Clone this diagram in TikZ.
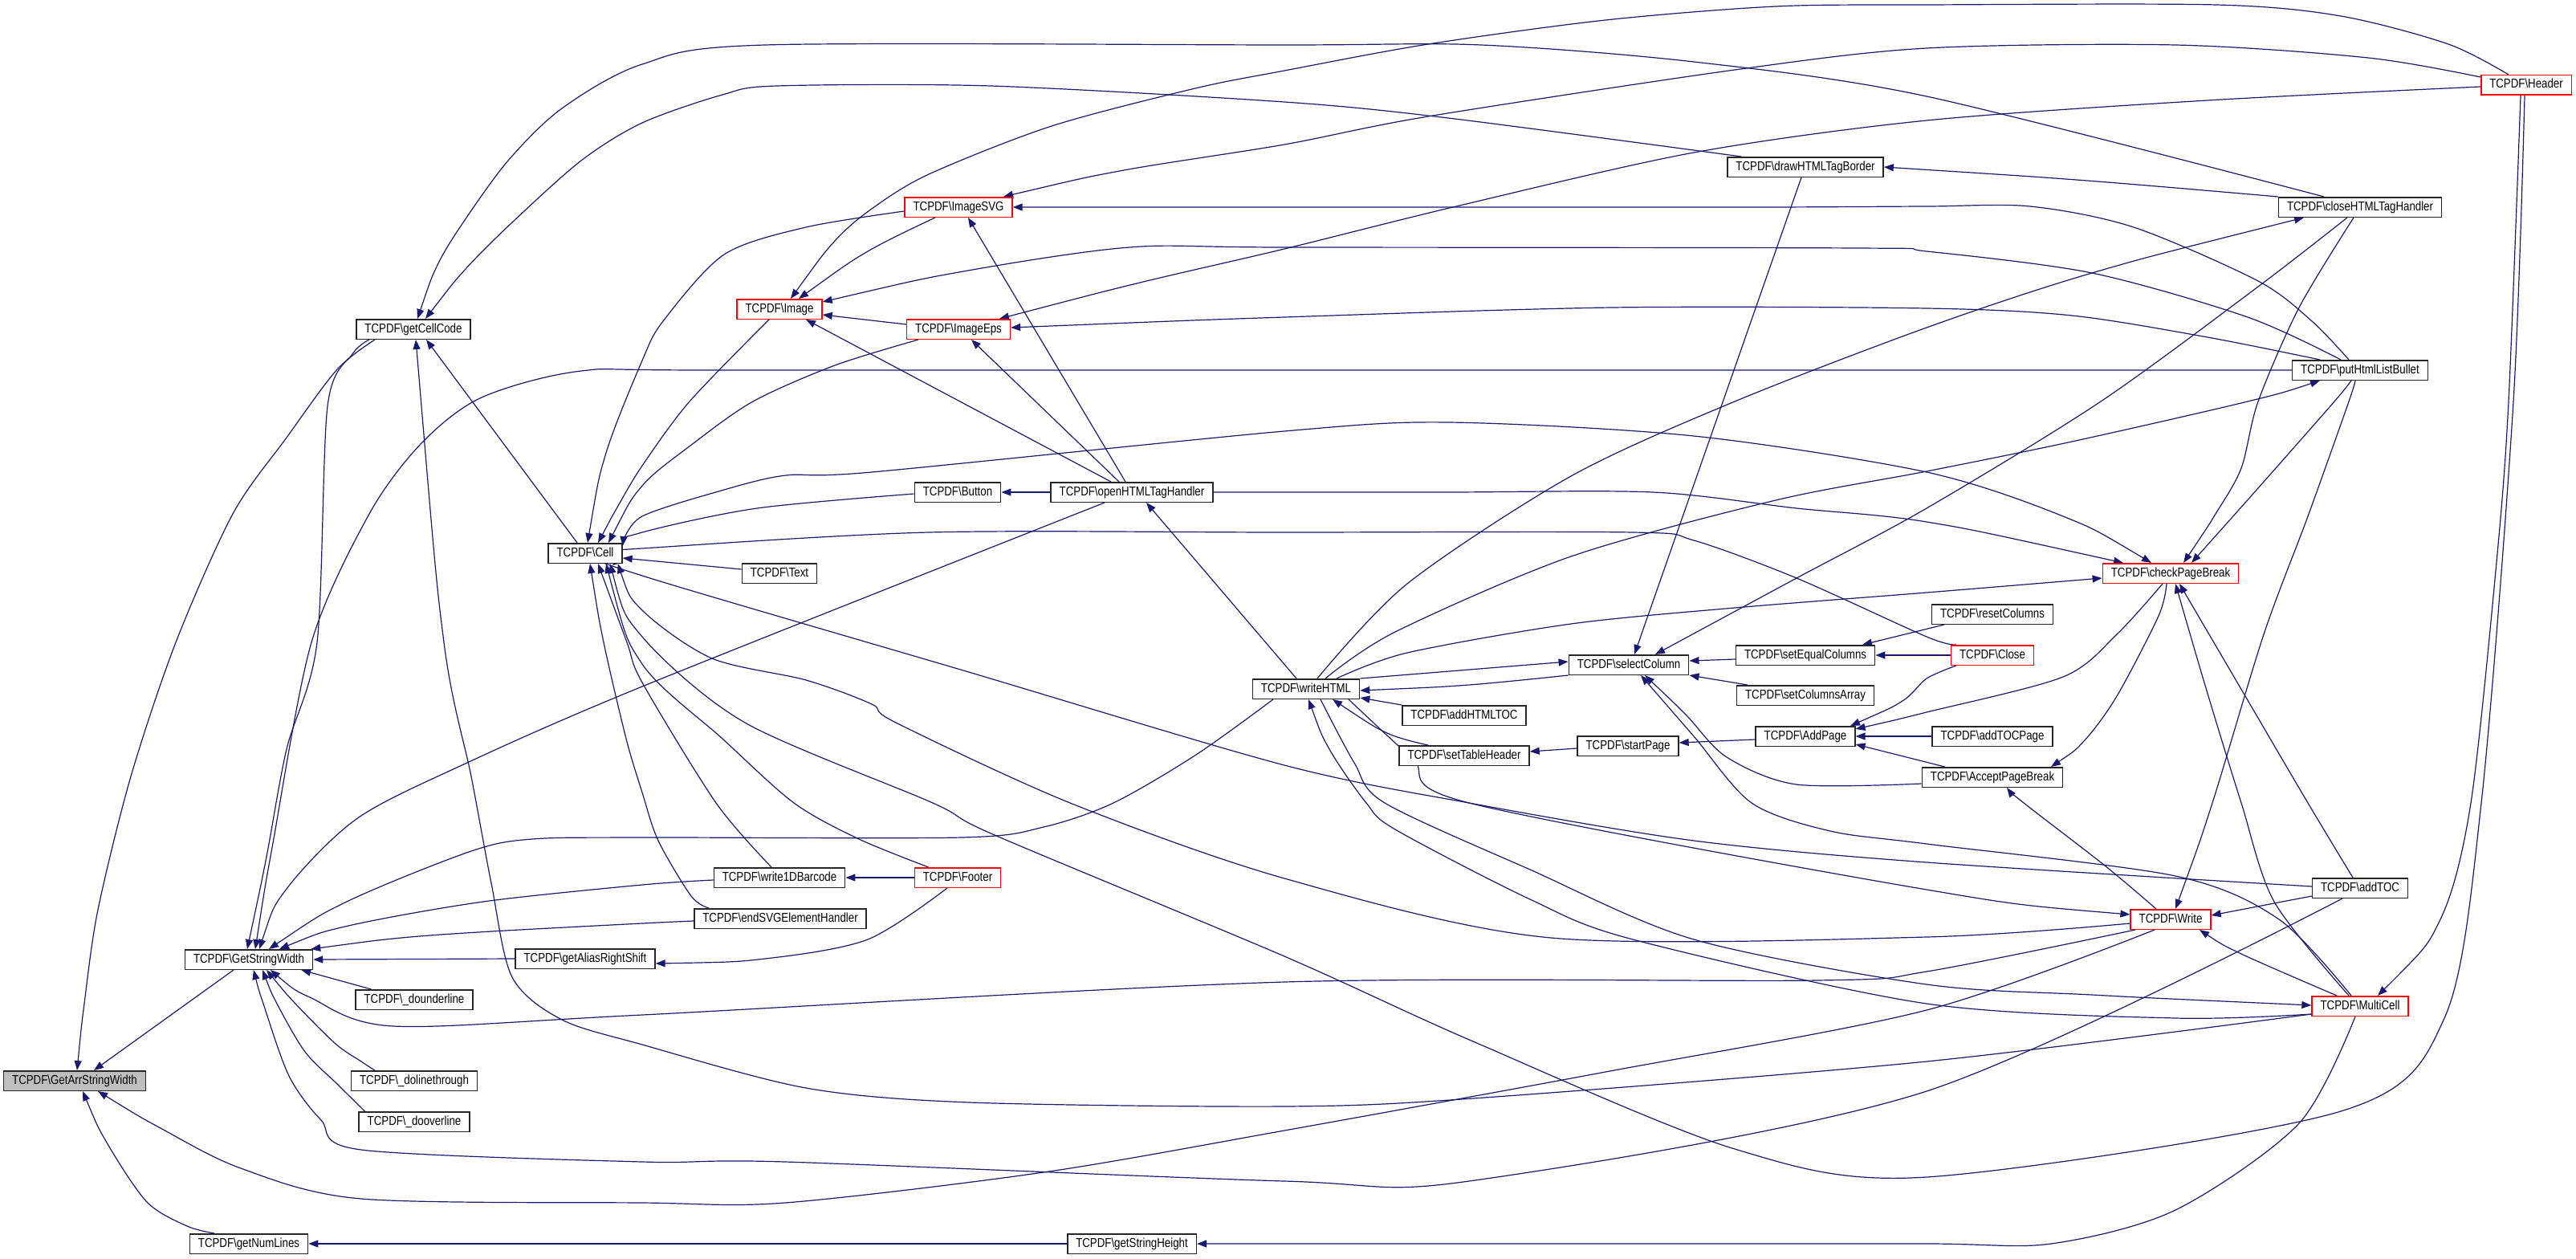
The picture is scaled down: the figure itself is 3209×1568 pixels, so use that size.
\documentclass[tikz,border=0pt]{standalone}
\usepackage{fontspec}
\newfontfamily\dfont[FakeStretch=0.83]{Liberation Sans}
\usetikzlibrary{arrows.meta}
\definecolor{edgecol}{HTML}{191970}
\definecolor{nodered}{HTML}{FF0000}
\pgfdeclarelayer{bg}
\pgfsetlayers{bg,main}
\newcommand\edgeplot[1]{\draw[edg] plot[smooth,tension=0.5] coordinates {#1};}
\begin{document}
\begin{tikzpicture}[x=1pt,y=-1pt,
  fn/.style={draw=black!85, line width=1.5pt, fill=white, font=\dfont\fontsize{16}{19}\selectfont,
    inner xsep=10.5pt, inner ysep=0pt, minimum height=24.5pt, text height=11.5pt, text depth=3.5pt},
  redfn/.style={fn, draw=nodered},
  rootfn/.style={fn, fill=black!25},
  edg/.style={draw=edgecol, line width=1.2pt, {Triangle[length=12pt,width=9pt]}-}]
\useasboundingbox (0,0) rectangle (3209,1568);
% nodes
\node[rootfn] (garr) at (93,1346) {TCPDF\textbackslash GetArrStringWidth};
\node[fn] (gcc) at (515,410) {TCPDF\textbackslash getCellCode};
\node[fn] (gsw) at (310,1195) {TCPDF\textbackslash GetStringWidth};
\node[fn] (gnl) at (310,1549) {TCPDF\textbackslash getNumLines};
\node[fn] (dun) at (516,1245) {TCPDF\textbackslash\_dounderline};
\node[fn] (dlt) at (516,1346) {TCPDF\textbackslash\_dolinethrough};
\node[fn] (dov) at (516,1397) {TCPDF\textbackslash\_dooverline};
\node[fn] (cell) at (729,689) {TCPDF\textbackslash Cell};
\node[fn] (gars) at (729,1194) {TCPDF\textbackslash getAliasRightShift};
\node[redfn] (img) at (971,385) {TCPDF\textbackslash Image};
\node[fn] (txt) at (971,714) {TCPDF\textbackslash Text};
\node[fn] (w1d) at (971,1093) {TCPDF\textbackslash write1DBarcode};
\node[fn] (esvg) at (972,1144) {TCPDF\textbackslash endSVGElementHandler};
\node[redfn] (isvg) at (1194,258) {TCPDF\textbackslash ImageSVG};
\node[redfn] (ieps) at (1194,410) {TCPDF\textbackslash ImageEps};
\node[fn] (btn) at (1193,613) {TCPDF\textbackslash Button};
\node[redfn] (foot) at (1193,1093) {TCPDF\textbackslash Footer};
\node[fn] (open) at (1410,613) {TCPDF\textbackslash openHTMLTagHandler};
\node[fn] (gsh) at (1410,1549) {TCPDF\textbackslash getStringHeight};
\node[fn] (whtml) at (1627,858) {TCPDF\textbackslash writeHTML};
\node[fn] (ahtoc) at (1824,891) {TCPDF\textbackslash addHTMLTOC};
\node[fn] (sth) at (1824,941) {TCPDF\textbackslash setTableHeader};
\node[fn] (selc) at (2029,828) {TCPDF\textbackslash selectColumn};
\node[fn] (stp) at (2028,929) {TCPDF\textbackslash startPage};
\node[fn] (dhtb) at (2249,208) {TCPDF\textbackslash drawHTMLTagBorder};
\node[fn] (seq) at (2249,816) {TCPDF\textbackslash setEqualColumns};
\node[fn] (sca) at (2249,866) {TCPDF\textbackslash setColumnsArray};
\node[fn] (addp) at (2249,917) {TCPDF\textbackslash AddPage};
\node[fn] (rcol) at (2482,765) {TCPDF\textbackslash resetColumns};
\node[redfn] (clos) at (2482,816) {TCPDF\textbackslash Close};
\node[fn] (atocp) at (2482,917) {TCPDF\textbackslash addTOCPage};
\node[fn] (apb) at (2482,968) {TCPDF\textbackslash AcceptPageBreak};
\node[redfn] (cpb) at (2704,714) {TCPDF\textbackslash checkPageBreak};
\node[redfn] (wrt) at (2704,1145) {TCPDF\textbackslash Write};
\node[fn] (chtml) at (2940,258) {TCPDF\textbackslash closeHTMLTagHandler};
\node[fn] (plb) at (2940,461) {TCPDF\textbackslash putHtmlListBullet};
\node[fn] (atoc) at (2940,1106) {TCPDF\textbackslash addTOC};
\node[redfn] (mcell) at (2940,1253) {TCPDF\textbackslash MultiCell};
\node[redfn] (hdr) at (3147,106) {TCPDF\textbackslash Header};
\begin{pgfonlayer}{bg}
\fill[white] (0,0) rectangle (3209,1568);
% GetArrStringWidth
\edgeplot{([xshift=3pt]garr.north) (105,1250) (122,1133) (163,967) (219,800) (290,640) (357,545) (420,460) ([xshift=-48pt]gcc.south)}
\draw[edg] ([xshift=24pt]garr.north) -- ([xshift=-19pt]gsw.south);
\edgeplot{([xshift=10pt]garr.south) (133,1423) (183,1497) (233,1527) ([xshift=-43pt]gnl.north)}
\edgeplot{([xshift=29pt]garr.south) (200,1405) (300,1455) (450,1493) (800,1498) (978,1498) (1300,1460) (1600,1408) (2000,1335) (2400,1258) ([xshift=-20pt]wrt.south)}
% GetStringWidth
\edgeplot{([xshift=-2pt]gsw.north) (332,1067) (357,933) (395,800) (408,506) (439,441) ([xshift=-55pt]gcc.south)}
\edgeplot{([xshift=8pt]gsw.north) (340,1050) (388,800) (460,640) (525,552) (600,495) (724,462) (900,461) (2000,461) (plb.west)}
\edgeplot{([xshift=13pt]gsw.north) (357,1107) (444,1020) (571,955) (800,855) ([xshift=-34pt]open.south)}
\edgeplot{([xshift=25pt]gsw.north) (434,1122) (587,1060) (663,1045) (800,1043) (1198,1043) (1300,1030) (1387,1000) (1490,940) ([xshift=-41pt]whtml.south)}
\edgeplot{([xshift=38pt]gsw.north) (434,1153) (602,1123) (800,1102) ([yshift=-3pt]w1d.west)}
\edgeplot{([xshift=-3pt]gsw.north east) (500,1168) (612,1160) (800,1150) ([yshift=-3pt]esvg.west)}
\draw[edg] (gsw.east) -- (gars.west);
\draw[edg] ([xshift=-15pt]gsw.south east) -- ([xshift=20pt]dun.north west);
\edgeplot{([xshift=22pt]gsw.south) (368,1250) (418,1300) (450,1322) ([xshift=30pt]dlt.north west)}
\edgeplot{([xshift=17pt]gsw.south) (345,1250) (380,1310) (420,1350) ([xshift=8pt]dov.north west)}
\edgeplot{([xshift=27pt]gsw.south) (388,1243) (490,1278) (800,1264) (1600,1223) (2263,1221) (2400,1210) ([xshift=-44pt]wrt.south)}
\edgeplot{([xshift=6pt]gsw.south) (328,1250) (360,1340) (400,1395) (450,1432) (800,1447) (978,1447) (1600,1471) (1830,1471) (2400,1359) ([xshift=-22pt]atoc.south)}
% getCellCode
\edgeplot{([xshift=5pt]gcc.north) (545,330) (577,277) (633,200) (700,135) (800,80) (953,56) (1600,56) (1845,56) (2110,77) (2400,120) ([xshift=-45pt]chtml.north)}
\edgeplot{([xshift=15pt]gcc.north) (580,335) (638,277) (724,200) (800,153) (900,118) (968,107) (1234,107) (1600,127) (1804,147) ([xshift=18pt]dhtb.north west)}
\draw[edg] ([xshift=16pt]gcc.south) -- ([xshift=-10pt]cell.north);
\edgeplot{([xshift=3pt]gcc.south) (553,800) (587,967) (612,1100) (638,1217) (700,1270) (800,1301) (1004,1355) (1208,1373) (1600,1378) (1835,1368) (2400,1322) ([yshift=-10pt]mcell.west)}
% Image family
\edgeplot{([xshift=14pt]img.north) (1040,300) (1086,260) (1157,217) (1310,157) (1489,110) (1600,88) (1779,55) (2000,25) (2212,8) (2400,6) (2761,6) (2916,20) (3050,55) ([xshift=-22pt]hdr.north)}
\edgeplot{([xshift=56pt]isvg.north) (1400,212) (1600,180) (1779,145) (2161,87) (2400,60) (2710,56) (2950,72) ([yshift=-3pt]hdr.north west)}
\edgeplot{([xshift=51pt]ieps.north) (1420,352) (1600,310) (1814,257) (2110,190) (2400,150) (2750,125) ([yshift=-2pt]hdr.west)}
\edgeplot{(isvg.east) (1800,258) (2200,258) (2400,257) (2529,257) (2658,283) (2813,350) (2880,400) ([xshift=-14pt]plb.north)}
\edgeplot{([yshift=9pt]img.east) (1200,338) (1407,308) (1600,308) (2314,309) (2400,313) (2606,340) (2800,395) ([xshift=-24pt]plb.north)}
\edgeplot{([yshift=2pt]ieps.east) (1600,395) (2008,383) (2400,384) (2581,393) (2750,420) ([xshift=-50pt]plb.north)}
\edgeplot{([xshift=24pt]img.north) (1081,313) ([xshift=-29pt]isvg.south)}
\draw[edg] ([yshift=-7pt]img.east) -- ([yshift=6pt]ieps.west);
\draw[edg] ([xshift=33pt]img.south) -- ([xshift=-26pt]open.north);
\draw[edg] ([xshift=12pt]isvg.south) -- ([xshift=-8pt]open.north);
\draw[edg] ([xshift=16pt]ieps.south) -- ([xshift=-16pt]open.north);
% Cell
\edgeplot{([xshift=16pt]cell.north) (770,630) (800,580) (859,500) ([xshift=-13pt]img.south)}
\edgeplot{([xshift=3pt]cell.north) (755,564) (800,449) (826,400) (902,317) (1004,283) ([yshift=-5pt]isvg.west)}
\edgeplot{([xshift=29pt]cell.north) (800,605) (860,555) (938,500) (1040,455) ([xshift=-50pt]ieps.south)}
\edgeplot{([yshift=9pt]cell.east) (800,663) (943,633) ([yshift=-2pt]btn.west)}
\draw[edg] ([yshift=-6pt]cell.east) -- ([yshift=5pt]txt.west);
\edgeplot{([yshift=2pt]cell.east) (800,683) (1157,663) (1600,663) (2034,663) (2110,673) (2238,720) (2400,793) ([xshift=7pt]clos.north west)}
\edgeplot{([yshift=-11pt]cell.east) (800,717) (1200,835) (1600,953) (1830,1000) (2110,1047) (2400,1074) ([yshift=2pt]atoc.west)}
\edgeplot{([xshift=-6pt]cell.south east) (800,760) (887,820) (1004,847) (1086,877) (1116,900) (1333,1000) (1600,1094) (1932,1168) (2400,1167) ([yshift=-5pt]wrt.west)}
\edgeplot{([xshift=31pt]cell.south) (800,793) (928,900) (1162,1000) (1239,1040) (1600,1191) (1835,1297) (2161,1431) (2400,1466) (2916,1384) (3045,1268) (3091,1000) (3131,500) ([xshift=-2pt]hdr.south)}
\edgeplot{([xshift=26pt]cell.south) (800,827) (900,920) (989,1000) (1070,1045) ([xshift=18pt]foot.north west)}
\edgeplot{([xshift=16pt]cell.south) (781,800) (800,850) (892,1000) ([xshift=-10pt]w1d.north)}
\edgeplot{([xshift=6pt]cell.south) (752,800) (780,920) (800,987) (820,1047) (861,1116) ([xshift=19pt]esvg.north west)}
% checkPageBreak
\edgeplot{([xshift=-24pt]cpb.north) (2570,643) (2400,588) (2110,543) (1804,526) (1600,537) (1086,588) (979,592) (902,610) (800,643) (cell.north east)}
\draw[edg] (btn.east) -- (open.west);
\edgeplot{([xshift=-59pt]cpb.north) (2400,650) (2238,633) (2059,613) (1800,613) (open.east)}
\draw[edg] ([xshift=18pt]open.south) -- ([xshift=-12pt]whtml.north);
\edgeplot{([yshift=-6pt]gars.east) (953,1194) (1081,1170) ([xshift=-13pt]foot.south)}
\draw[edg] (w1d.east) -- (foot.west);
\edgeplot{(gsh.east) (2000,1549) (2400,1549) (2555,1549) (2710,1507) (2864,1399) ([xshift=-6pt]mcell.south)}
\draw[edg] (gnl.east) -- (gsh.west);
% writeHTML
\edgeplot{([xshift=-70pt]chtml.south) (2606,340) (2400,408) (2161,500) (1957,593) (1753,727) ([xshift=14pt]whtml.north)}
\edgeplot{([xshift=-50pt]plb.south) (2800,500) (2581,550) (2400,587) (2212,623) (1957,693) (1738,787) ([xshift=24pt]whtml.north)}
\edgeplot{([yshift=-6pt]cpb.west) (2400,738) (2161,757) (1957,777) (1753,813) ([xshift=38pt]whtml.north)}
\draw[edg] ([yshift=4pt]selc.west) -- (whtml.north east);
\edgeplot{([yshift=-2pt]whtml.east) (1830,853) (selc.south west)}
\edgeplot{([yshift=1pt]mcell.west) (2606,1239) (2400,1226) (2110,1170) (1906,1083) (1725,1000) (1687,950) ([xshift=18pt]whtml.south)}
\edgeplot{([xshift=3pt]whtml.south) (1656,933) (1702,1000) (1738,1033) (1906,1120) (2034,1170) (2400,1250) (2710,1268) ([yshift=-10pt]mcell.west)}
\edgeplot{([yshift=6pt]wrt.west) (2400,1108) (1830,1000) (1760,945) ([xshift=53pt]whtml.south)}
\draw[edg] ([yshift=2pt]whtml.south east) -- (ahtoc.north west);
\edgeplot{([xshift=33pt]whtml.south) (1728,913) ([xshift=-45pt]sth.north)}
\draw[edg] ([yshift=5pt]sth.east) -- ([yshift=-3pt]stp.west);
\draw[edg] ([yshift=4pt]stp.east) -- ([yshift=-4pt]addp.west);
% selectColumn
\draw[edg] ([xshift=7pt]selc.north) -- ([xshift=-5pt]dhtb.south);
\edgeplot{([xshift=33pt]selc.north) (2238,720) (2400,633) (2617,500) (2813,357) ([xshift=-16pt]chtml.south)}
\draw[edg] ([yshift=5pt]selc.east) -- ([yshift=-5pt]seq.west);
\draw[edg] (selc.south east) -- ([xshift=14pt]sca.north west);
\edgeplot{([xshift=15pt]selc.south) (2110,917) (2182,1000) (2280,1035) (2400,1051) (2710,1091) (2839,1145) ([xshift=-11pt]mcell.north)}
\edgeplot{([xshift=20pt]selc.south) (2100,890) (2151,943) (2238,977) ([yshift=-8pt]apb.west)}
\edgeplot{(dhtb.east) (2600,225) (chtml.north west)}
\draw[edg] ([xshift=71pt]seq.north) -- ([xshift=16pt]rcol.south west);
\draw[edg] (seq.east) -- (clos.west);
% AddPage
\edgeplot{([xshift=56pt]addp.north) (2370,873) (2400,845) ([xshift=7pt]clos.south west)}
\edgeplot{([yshift=9pt]addp.east) (2400,887) (2570,843) (2637,790) ([xshift=-10pt]cpb.south)}
\draw[edg] (addp.east) -- (atocp.west);
\draw[edg] ([yshift=-10pt]addp.east) -- ([xshift=29pt]apb.north west);
% AcceptPageBreak
\edgeplot{([xshift=73pt]apb.north) (2596,923) (2637,867) (2689,767) ([xshift=-5pt]cpb.south)}
\edgeplot{([xshift=18pt]apb.south) (2521,1000) (2622,1078) ([xshift=-18pt]wrt.north)}
% checkPageBreak callers
\edgeplot{([xshift=16pt]cpb.north) (2760,640) (2792,583) (2813,500) (2864,383) ([xshift=-8pt]chtml.south)}
\edgeplot{([xshift=26pt]cpb.north) (2820,600) (2908,500) ([xshift=-11pt]plb.south)}
\edgeplot{([xshift=6pt]cpb.south) (2751,867) (2792,1000) (2833,1123) ([xshift=-14pt]mcell.north)}
\edgeplot{([xshift=11pt]cpb.south) (2797,867) (2875,1000) ([xshift=-9pt]atoc.north)}
% Write callers
\edgeplot{([xshift=6pt]wrt.north) (2756,1000) (2820,790) (2875,643) (2926,500) ([xshift=-6pt]plb.south)}
\edgeplot{([xshift=36pt]wrt.south) (2792,1188) ([xshift=-29pt]mcell.north)}
\draw[edg] ([yshift=5pt]wrt.east) -- ([yshift=-10pt]atoc.west);
% MultiCell from Header
\edgeplot{([xshift=22pt]mcell.north) (3040,1145) (3078,1000) (3110,700) (3125,500) ([xshift=-7pt]hdr.south)}
\end{pgfonlayer}
\end{tikzpicture}
\end{document}
